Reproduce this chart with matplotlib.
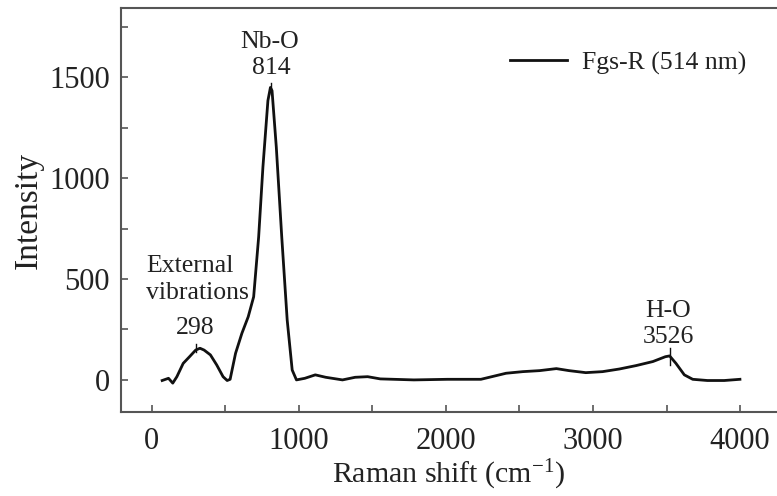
import numpy as np
import matplotlib
matplotlib.use("Agg")
import matplotlib.pyplot as plt
from matplotlib.ticker import MultipleLocator

plt.rcParams['font.family'] = ['Liberation Serif', 'DejaVu Serif']
plt.rcParams['mathtext.fontset'] = 'custom'
plt.rcParams['mathtext.rm'] = 'Liberation Serif'
plt.rcParams['mathtext.it'] = 'Liberation Serif:italic'

# spectrum
shift = [71, 114, 143, 171, 214, 257, 299, 328, 356, 399, 442, 485, 513, 533,
         570, 613, 656, 693, 727, 756, 790, 807, 818, 847, 884, 921, 955, 984,
         1041, 1112, 1183, 1297, 1383, 1468, 1554, 1782, 2010, 2238, 2295,
         2409, 2523, 2637, 2751, 2837, 2951, 3065, 3179, 3293, 3407, 3492,
         3521, 3564, 3621, 3678, 3778, 3892, 3999]
intensity = [-3, 8, -16, 16, 82, 115, 148, 157, 148, 124, 74, 16, -3, 3,
             132, 231, 313, 412, 709, 1055, 1385, 1450, 1434, 1154, 709, 297, 49, 0,
             8, 25, 13, 0, 13, 16, 5, 0, 3, 3, 13,
             33, 41, 46, 56, 46, 36, 41, 54, 71, 91, 115,
             119, 82, 25, 3, -3, -3, 3]

peak_pos = [298, 814, 3526]
peak_names = ["External\nvibrations", "Nb-O", "H-O"]

fig = plt.figure(figsize=(7.77, 4.96), dpi=100)
ax = fig.add_axes([0.1557, 0.1694, 0.8443, 0.8145])

ax.plot(shift, intensity, color='#111111', lw=2.0, label='Fgs-R (514 nm)')

ax.set_xlim(-209, 4251)
ax.set_ylim(-159, 1844)
ax.xaxis.set_major_locator(MultipleLocator(1000))
ax.xaxis.set_minor_locator(MultipleLocator(500))
ax.yaxis.set_major_locator(MultipleLocator(500))
ax.yaxis.set_minor_locator(MultipleLocator(250))
ax.tick_params(which='both', direction='in', length=5, width=1.2, color='#555555',
               labelsize=22, labelcolor='#222222')
ax.tick_params(axis='x', pad=11)
ax.tick_params(axis='y', pad=8)
ax.spines['right'].set_visible(False)
for s in ['left', 'bottom', 'top']:
    ax.spines[s].set_color('#555555')
    ax.spines[s].set_linewidth(1.5)

ax.set_xlabel('Raman shift (cm$^{\\mathrm{-1}}$)', fontsize=21.5, color='#222222', labelpad=1)
ax.set_ylabel('Intensity', fontsize=24, color='#222222', labelpad=4)

# peak annotations
ax.text(298, 258, str(peak_pos[0]), ha='center', va='center', fontsize=18.5, color='#222222')
ax.text(-40, 500, peak_names[0], ha='left', va='center', fontsize=18.5, color='#222222',
        linespacing=1.3)
ax.text(804, 1676, peak_names[1], ha='center', va='center', fontsize=18.5, color='#222222')
ax.text(810, 1547, str(peak_pos[1]), ha='center', va='center', fontsize=18.5, color='#222222')
ax.text(3510, 342, peak_names[2], ha='center', va='center', fontsize=18.5, color='#222222')
ax.text(3510, 213, str(peak_pos[2]), ha='center', va='center', fontsize=18.5, color='#222222')
for p, lo, hi in [(298, 140, 180), (814, 1420, 1470), (3526, 75, 160)]:
    ax.plot([p, p], [lo, hi], color='#111111', lw=1.0)

ax.legend(loc='center right', bbox_to_anchor=(0.974, 0.873), bbox_transform=fig.transFigure,
          frameon=False, fontsize=18.5, handlelength=2.2, handletextpad=0.6,
          borderaxespad=0, labelcolor='#222222')

fig.savefig('out.png', dpi=100)
